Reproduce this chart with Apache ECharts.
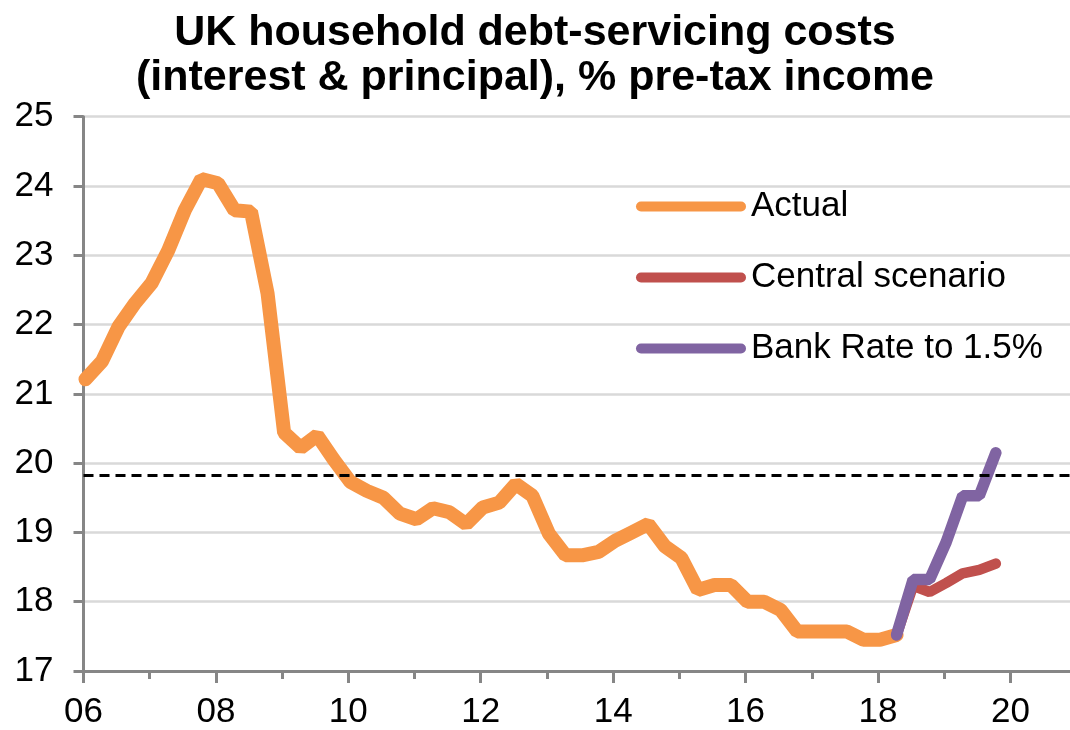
<!DOCTYPE html>
<html>
<head>
<meta charset="utf-8">
<title>UK household debt-servicing costs</title>
<script src="https://cdn.jsdelivr.net/npm/echarts@6/dist/echarts.min.js"></script>
<style>
  html, body { margin: 0; padding: 0; background: #fff; }
  #chart { width: 1070px; height: 730px; }
</style>
</head>
<body>
<div id="chart"></div>
<script>
// Quarterly series, first quarter of each series given by its start year
const actualStart = 2006.0;
const actualValues = [
  21.21, 21.47, 21.97, 22.31,   // 2006
  22.60, 23.07, 23.65, 24.10,   // 2007
  24.04, 23.65, 23.63, 22.45,   // 2008
  20.44, 20.22, 20.40, 20.05,   // 2009
  19.73, 19.60, 19.50, 19.27,   // 2010
  19.19, 19.35, 19.29, 19.12,   // 2011
  19.36, 19.43, 19.70, 19.53,   // 2012
  18.98, 18.67, 18.67, 18.72,   // 2013
  18.88, 19.00, 19.12, 18.80,   // 2014
  18.63, 18.17, 18.24, 18.24,   // 2015
  18.00, 18.00, 17.88, 17.57,   // 2016
  17.57, 17.57, 17.57, 17.45,   // 2017
  17.45, 17.52                  // 2018 H1
];
// Projections start from the last actual quarter (2018 Q2)
const projectionStart = 2018.25;
const centralValues  = [17.52, 18.23, 18.14, 18.27, 18.41, 18.46, 18.55];
const bankRateValues = [17.52, 18.32, 18.32, 18.86, 19.53, 19.53, 20.15];
// Long-run reference level (dashed)
const referenceLevel = 19.83;

const seriesNames = ['Actual', 'Central scenario', 'Bank Rate to 1.5%'];
const yearLabelsMajor = [2006, 2008, 2010, 2012, 2014, 2016, 2018, 2020];
const yearTicksMinor  = [2007, 2009, 2011, 2013, 2015, 2017, 2019];

const pointOffset = 0.03; // quarterly points sit just after the quarter start
function toPoints(start, values) {
  return values.map((v, i) => [start + i * 0.25 + pointOffset, v]);
}

const FONT = "'Liberation Sans', Arial, Helvetica, sans-serif";
const AXIS_GREY = '#868686';
const pill = 'path://M5,0 L105,0 A5,5 0 0 1 105,10 L5,10 A5,5 0 0 1 5,0 Z';

const chart = echarts.init(document.getElementById('chart'), null, { renderer: 'canvas' });

chart.setOption({
  animation: false,
  backgroundColor: '#fff',
  title: {
    text: 'UK household debt-servicing costs\n(interest & principal), % pre-tax income',
    left: 'center',
    top: 6,
    textStyle: {
      fontFamily: FONT,
      fontSize: 43,
      fontWeight: 'bold',
      color: '#000',
      lineHeight: 45
    }
  },
  legend: {
    data: seriesNames,
    orient: 'vertical',
    left: 636,
    top: 188,
    padding: 0,
    itemWidth: 110,
    itemHeight: 11,
    itemGap: 34,
    icon: pill,
    selectedMode: false,
    textStyle: { fontFamily: FONT, fontSize: 35, color: '#000', lineHeight: 37 }
  },
  grid: { left: 83.5, right: 0, top: 116.7, bottom: 56.7, containLabel: false },
  xAxis: [
    {
      type: 'value',
      min: 2006,
      max: 2020.9,
      position: 'bottom',
      axisLine: { show: true, lineStyle: { color: AXIS_GREY, width: 3 } },
      axisTick: {
        show: true,
        customValues: yearLabelsMajor,
        length: 12,
        lineStyle: { color: AXIS_GREY, width: 3 }
      },
      axisLabel: {
        customValues: yearLabelsMajor,
        formatter: v => String(v).slice(2),
        fontFamily: FONT,
        fontSize: 35,
        color: '#000',
        margin: 24
      },
      splitLine: { show: false }
    },
    {
      type: 'value',
      min: 2006,
      max: 2020.9,
      position: 'bottom',
      axisLine: { show: false },
      axisTick: {
        show: true,
        customValues: yearTicksMinor,
        length: 8,
        lineStyle: { color: AXIS_GREY, width: 3 }
      },
      axisLabel: { show: false },
      splitLine: { show: false }
    }
  ],
  yAxis: {
    type: 'value',
    min: 17,
    max: 25,
    interval: 1,
    axisLine: { show: true, lineStyle: { color: AXIS_GREY, width: 3 } },
    axisTick: { show: true, length: 10, lineStyle: { color: AXIS_GREY, width: 3 } },
    axisLabel: { fontFamily: FONT, fontSize: 35, color: '#000', margin: 30 },
    splitLine: { show: true, lineStyle: { color: '#D9D9D9', width: 2.5 } }
  },
  series: [
    {
      name: seriesNames[0],
      type: 'line',
      data: toPoints(actualStart, actualValues),
      showSymbol: false,
      clip: true,
      color: '#F79646',
      lineStyle: { color: '#F79646', width: 14, cap: 'round', join: 'bevel' },
      z: 2
    },
    {
      name: seriesNames[1],
      type: 'line',
      data: toPoints(projectionStart, centralValues),
      showSymbol: false,
      clip: true,
      color: '#C0504D',
      lineStyle: { color: '#C0504D', width: 10.5, cap: 'round', join: 'bevel' },
      z: 2
    },
    {
      name: seriesNames[2],
      type: 'line',
      data: toPoints(projectionStart, bankRateValues),
      showSymbol: false,
      clip: true,
      color: '#8064A2',
      lineStyle: { color: '#8064A2', width: 11.5, cap: 'round', join: 'bevel' },
      z: 2
    },
    {
      name: 'reference',
      type: 'line',
      data: [],
      z: 4,
      silent: true,
      markLine: {
        silent: true,
        symbol: ['none', 'none'],
        label: { show: false },
        lineStyle: { color: '#000', type: [10, 6], width: 3 },
        data: [{ yAxis: referenceLevel }]
      }
    }
  ]
});
</script>
</body>
</html>
